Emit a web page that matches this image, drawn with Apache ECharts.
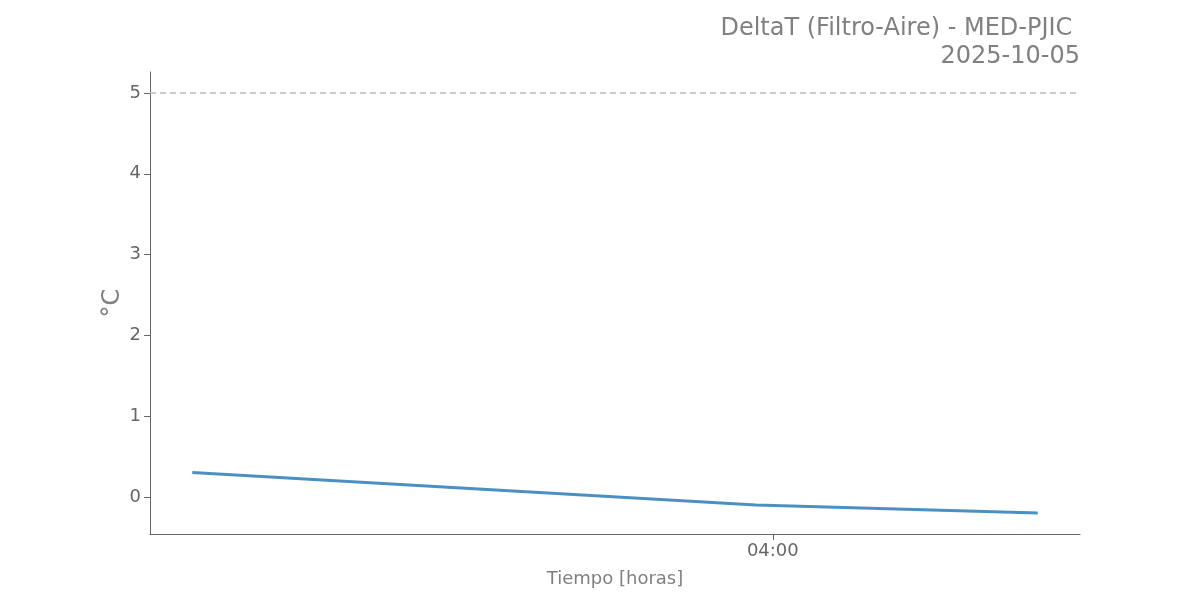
<!DOCTYPE html>
<html><head><meta charset="utf-8">
<script src="https://cdn.jsdelivr.net/npm/echarts@6/dist/echarts.min.js"></script>
<style>html,body{margin:0;padding:0;background:#fff}#c{width:1200px;height:600px}</style>
</head><body><div id="c"></div>
<script>
const times = ["03:18:48","03:38:48","03:58:48","04:18:48"];
const deltaT = [0.30, 0.10, -0.10, -0.20];
const xTicks = ["04:00:00"];
const yTicks = [0,1,2,3,4,5];
const threshold = 5;
const titleLines = ["DeltaT (Filtro-Aire) - MED-PJIC ", "2025-10-05"];

const toMin = s => { const [h,m,sec] = s.split(':').map(Number); return h*60+m+(sec||0)/60; };
const fmt = v => { const t = Math.round(v); const h = Math.floor(t/60), m = t%60; return String(h).padStart(2,'0')+':'+String(m).padStart(2,'0'); };
const xs = times.map(toMin);
const span = xs[xs.length-1]-xs[0];
const xmin = xs[0]-span*0.05, xmax = xs[xs.length-1]+span*0.05;
const ymin = -0.46, ymax = 5.26;
const font = 'DejaVu Sans';
const chart = echarts.init(document.getElementById('c'));
chart.setOption({
  animation:false,
  textStyle:{fontFamily:font},
  graphic:titleLines.map((t,i)=>({type:'text',x:1080,y:29+i*28,
    style:{text:t,fontFamily:font,fontSize:24,fill:'#808080',align:'right',verticalAlign:'middle'}})),
  grid:{left:150,right:120,top:72,bottom:66},
  xAxis:{type:'value',min:xmin,max:xmax,
    name:'Tiempo [horas]',nameLocation:'middle',nameGap:36,
    nameTextStyle:{fontFamily:font,fontSize:18,color:'#808080'},
    axisLine:{onZero:false,lineStyle:{color:'#666',width:1}},
    axisTick:{show:true,length:6,lineStyle:{color:'#666'},customValues:xTicks.map(toMin)},
    axisLabel:{fontFamily:font,fontSize:18,color:'#666',margin:8,customValues:xTicks.map(toMin),formatter:v=>fmt(v)},
    splitLine:{show:false}},
  yAxis:{type:'value',min:ymin,max:ymax,
    name:'°C',nameLocation:'middle',nameGap:25,nameRotate:90,nameMoveOverlap:false,
    nameTextStyle:{fontFamily:font,fontSize:24,color:'#808080'},
    axisLine:{show:true,onZero:false,lineStyle:{color:'#666',width:1}},
    axisTick:{show:true,length:6,lineStyle:{color:'#666'},customValues:yTicks},
    axisLabel:{fontFamily:font,fontSize:18,color:'#666',margin:9,customValues:yTicks},
    splitLine:{show:false}},
  series:[{type:'line',data:xs.map((x,i)=>[x,deltaT[i]]),showSymbol:false,
    lineStyle:{color:'#4a90c2',width:3},
    markLine:{silent:true,symbol:'none',label:{show:false},
      lineStyle:{color:'#bbbbbb',type:[6,4],width:1.5},data:[{yAxis:threshold}]}}]
});
</script></body></html>
